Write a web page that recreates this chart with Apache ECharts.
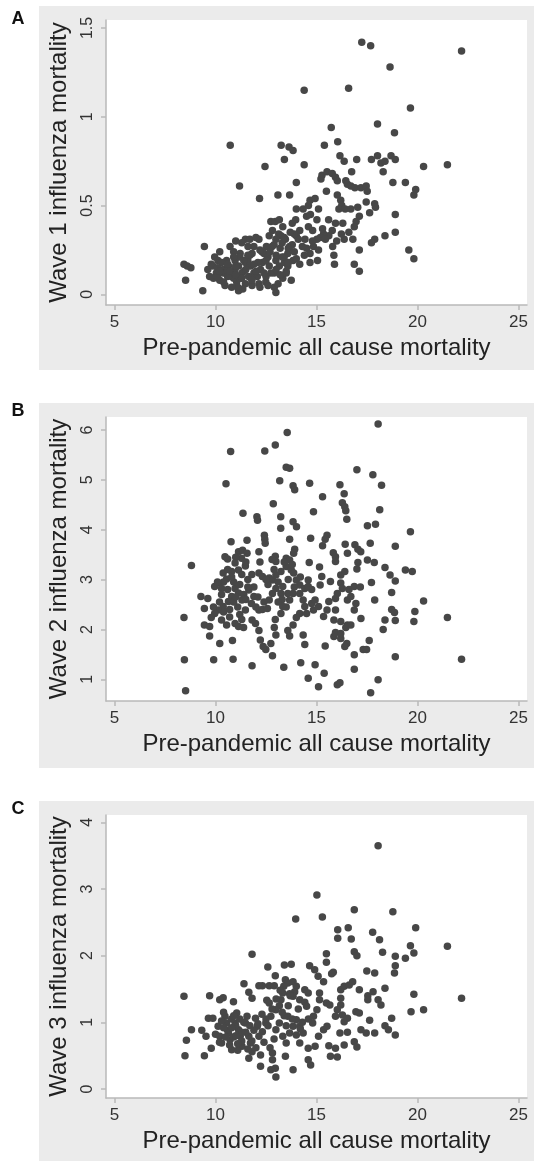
<!DOCTYPE html>
<html>
<head>
<meta charset="utf-8">
<script src="https://cdn.jsdelivr.net/npm/echarts@6/dist/echarts.min.js"></script>
<style>
html,body{margin:0;padding:0;background:#fff;}
#chart{width:534px;height:1161px;}
</style>
</head>
<body>
<div id="chart"></div>
<script>
// ---------- DATA ----------
const xTickValues = [5, 10, 15, 20, 25];
const aTickValues = [0, 0.5, 1, 1.5];
const bTickValues = [1, 2, 3, 4, 5, 6];
const cTickValues = [0, 1, 2, 3, 4];

const xTitle = 'Pre-pandemic all cause mortality';
const aTitle = 'Wave 1 influenza mortality';
const bTitle = 'Wave 2 influenza mortality';
const cTitle = 'Wave 3 influenza mortality';
const panelLetters = ['A', 'B', 'C'];

// Panel A (wave 1)
const aX = [17.24,17.68,22.18,18.64,14.39,16.59,19.65,15.73,18.02,18.86,10.73,13.25,13.64,13.84,15.39,16.05,16.16,16.37,16.99,17.72,
18.02,18.19,18.39,18.69,18.90,18.30,16.74,14.39,13.41,12.45,20.30,21.48,11.19,14.00,15.22,15.27,15.52,15.78,15.94,16.03,
16.45,16.53,16.70,16.90,17.20,17.46,17.51,18.78,19.40,19.91,19.82,12.18,13.09,13.67,15.49,16.03,16.20,16.25,16.11,16.42,
16.70,17.04,17.12,16.96,16.87,17.46,17.88,17.92,17.63,18.90,18.90,18.39,17.88,17.72,16.80,16.37,16.23,15.94,15.78,15.61,
15.35,15.19,15.44,14.85,15.02,14.81,14.60,15.02,14.51,14.34,14.68,14.93,14.60,14.00,13.97,13.80,14.17,14.00,14.43,14.51,
14.68,15.10,14.68,15.05,15.86,15.89,16.87,17.12,17.12,19.57,19.82,14.17,13.84,13.58,13.67,13.46,13.24,13.13,12.82,12.74,
12.96,13.16,13.33,12.99,12.66,12.52,12.40,12.15,11.90,11.81,11.48,11.61,11.22,10.97,10.72,10.21,9.96,9.45,8.44,8.78,
8.52,9.37,9.62,9.79,9.71,10.04,10.21,10.47,10.38,10.64,10.80,11.05,11.14,11.31,11.48,11.73,11.64,11.81,12.07,12.23,
12.32,12.66,12.74,12.49,12.15,12.99,13.16,12.91,12.99,13.33,13.50,13.75,13.58,13.41,10.97,11.14,10.55,10.38,9.87,10.12,
11.48,11.35,10.30,10.50,10.90,11.00,11.20,11.40,11.60,11.90,12.10,12.30,12.60,12.80,13.00,13.20,13.40,13.60,13.80,14.10,
14.30,13.90,13.30,12.90,12.50,11.10,10.60,10.10,9.90,11.80,12.20,13.10,13.50,14.00,14.40,14.80,15.30,15.60,15.10,14.70,
16.30,16.60,16.00,15.80,11.30,11.70,12.00,10.90,11.00,8.60,
10.10,10.40,10.70,10.90,11.20,11.50,11.70,11.90,12.20,12.50,12.70,13.00,13.30,13.60,13.90,10.60,11.00,11.40,11.80,12.40,
12.90,13.40,10.20,10.80,11.30,11.60,12.00,12.60,13.20,13.70];
const aY = [1.42,1.40,1.37,1.28,1.15,1.16,1.05,0.94,0.96,0.91,0.84,0.84,0.83,0.81,0.84,0.86,0.78,0.75,0.76,0.76,
0.78,0.74,0.75,0.78,0.76,0.69,0.69,0.73,0.76,0.72,0.72,0.73,0.61,0.63,0.65,0.67,0.69,0.68,0.66,0.64,
0.64,0.62,0.61,0.60,0.60,0.61,0.58,0.63,0.63,0.59,0.56,0.54,0.56,0.56,0.58,0.56,0.53,0.50,0.48,0.48,
0.48,0.49,0.44,0.41,0.38,0.52,0.51,0.49,0.46,0.45,0.35,0.33,0.31,0.29,0.31,0.31,0.34,0.40,0.36,0.33,
0.34,0.32,0.31,0.27,0.31,0.36,0.38,0.42,0.44,0.48,0.53,0.54,0.50,0.48,0.42,0.40,0.36,0.33,0.31,0.26,
0.23,0.25,0.18,0.19,0.22,0.17,0.17,0.13,0.25,0.25,0.20,0.17,0.19,0.23,0.27,0.31,0.33,0.34,0.36,0.41,
0.41,0.42,0.38,0.31,0.33,0.27,0.23,0.31,0.27,0.23,0.31,0.27,0.23,0.19,0.27,0.24,0.21,0.27,0.17,0.15,
0.08,0.02,0.14,0.17,0.10,0.12,0.08,0.05,0.14,0.16,0.10,0.07,0.02,0.12,0.18,0.16,0.10,0.05,0.10,0.14,
0.18,0.16,0.12,0.07,0.06,0.19,0.16,0.04,0.01,0.09,0.12,0.08,0.16,0.18,0.14,0.16,0.19,0.12,0.16,0.19,
0.06,0.03,0.18,0.12,0.09,0.16,0.21,0.13,0.19,0.12,0.18,0.24,0.21,0.27,0.22,0.26,0.21,0.18,0.28,0.31,
0.27,0.34,0.29,0.12,0.10,0.04,0.10,0.15,0.09,0.09,0.04,0.06,0.13,0.20,0.22,0.30,0.37,0.42,0.48,0.45,
0.40,0.35,0.30,0.27,0.29,0.31,0.32,0.24,0.30,0.16,
0.10,0.07,0.13,0.21,0.09,0.14,0.22,0.17,0.25,0.19,0.24,0.14,0.21,0.26,0.24,0.17,0.11,0.19,0.08,0.12,
0.28,0.32,0.13,0.04,0.09,0.22,0.13,0.05,0.11,0.35];

// Panel B (wave 2)
const bX = [18.05,13.55,12.96,10.75,12.44,13.50,13.67,17.00,17.79,10.52,13.18,13.84,13.92,14.66,16.16,18.22,15.30,16.37,12.86,16.28,
16.40,16.45,14.85,18.13,11.36,12.05,12.08,16.50,13.23,13.84,14.01,17.52,17.92,13.23,19.65,12.42,12.44,12.46,14.71,15.52,
15.43,15.30,13.67,10.77,11.56,18.90,16.42,16.90,17.05,17.19,17.66,16.53,15.83,15.94,15.94,13.92,13.87,13.50,13.67,12.96,
12.99,12.15,11.14,11.34,11.56,11.29,10.47,10.60,10.97,17.52,17.86,17.05,17.00,14.64,15.15,18.39,18.64,18.90,19.40,19.74,
8.81,11.48,11.14,10.80,10.38,10.55,10.13,9.96,10.30,12.15,12.32,12.66,12.82,12.99,13.24,13.50,13.75,13.87,14.00,14.17,
14.42,14.59,14.76,14.59,15.26,15.18,15.69,16.20,16.40,16.20,16.28,16.61,16.87,17.17,17.72,11.65,11.90,11.78,11.48,11.31,
11.14,10.97,10.80,10.64,10.38,10.13,9.96,9.79,9.45,9.28,9.62,8.44,9.45,9.71,9.71,10.21,10.30,10.55,10.97,11.14,
11.39,11.81,11.98,12.15,12.32,12.57,12.66,12.82,12.99,13.24,13.33,13.58,13.67,13.84,14.17,14.34,14.42,14.17,14.00,13.84,
13.58,13.67,12.96,12.91,12.99,13.24,13.33,14.51,14.85,14.76,14.93,15.10,15.61,15.52,15.35,15.94,15.86,16.20,16.03,15.94,
16.53,16.70,16.95,16.87,16.53,16.45,16.70,17.20,17.88,18.72,18.72,18.86,18.39,18.30,18.90,19.82,19.87,20.30,21.48,22.18,
18.90,17.61,17.31,17.48,16.87,16.87,16.50,16.40,16.20,15.86,15.94,16.20,15.43,15.38,15.10,14.93,14.59,14.42,14.34,14.22,
13.38,12.82,12.74,12.49,12.36,12.22,12.15,11.81,10.87,10.84,9.91,8.46,8.52,16.03,16.16,17.68,18.05,
10.20,10.40,10.60,10.90,11.10,11.20,11.40,11.60,11.00,10.80,11.30,11.50,10.70,12.40,12.60,12.90,13.10,13.30,13.60,13.90,
13.40,12.20,11.90,12.00,
10.30,10.60,10.90,11.20,11.50,11.80,10.40,10.70,11.00,11.30,11.60,12.10,12.50,12.80,13.10,13.50,13.80,14.20,9.90,10.10];
const bY = [6.12,5.95,5.70,5.57,5.58,5.25,5.23,5.20,5.10,4.92,4.98,4.88,4.80,4.93,4.90,4.89,4.66,4.72,4.52,4.54,
4.46,4.38,4.36,4.40,4.33,4.26,4.19,4.21,4.26,4.16,4.06,4.08,4.11,4.03,3.96,3.89,3.81,3.73,3.83,3.89,
3.81,3.68,3.81,3.76,3.79,3.67,3.71,3.70,3.61,3.56,3.73,3.53,3.54,3.46,3.36,3.61,3.53,3.43,3.39,3.47,
3.36,3.56,3.56,3.59,3.53,3.43,3.46,3.41,3.33,3.39,3.34,3.34,3.21,3.34,3.25,3.24,3.09,2.97,3.19,3.16,
3.28,3.27,3.19,3.16,3.13,3.01,2.93,2.86,2.82,3.13,3.06,3.03,2.99,3.09,3.16,3.26,3.19,3.13,2.99,2.89,
2.82,2.86,2.80,2.99,3.06,2.89,2.96,3.09,3.16,2.93,2.82,2.80,2.86,2.85,2.94,2.79,2.66,2.52,2.39,2.59,
2.73,2.82,2.66,2.56,2.46,2.39,2.32,2.24,2.42,2.66,2.62,2.24,2.09,2.06,1.87,1.72,2.19,2.09,2.12,2.06,
2.04,2.19,2.12,2.39,2.40,2.42,2.59,2.72,2.82,2.72,2.86,2.72,2.59,2.72,2.72,2.59,2.46,2.32,2.24,2.09,
1.98,1.87,2.20,2.04,1.89,2.32,2.46,2.32,2.39,2.52,2.59,2.46,2.56,2.39,2.26,2.39,2.19,2.16,2.72,2.62,
2.59,2.66,2.52,2.39,2.09,2.04,2.09,2.22,2.59,2.74,2.40,2.34,2.19,2.00,2.18,2.16,2.36,2.57,2.24,1.40,
1.45,1.78,1.60,1.60,1.49,1.20,1.72,1.66,1.82,1.86,1.94,1.92,1.67,1.12,0.85,1.29,1.02,1.70,1.89,1.33,
1.24,1.47,1.72,1.60,1.66,1.79,1.98,1.27,1.40,1.78,1.39,1.39,0.77,0.89,0.93,0.73,0.99,
2.55,2.35,2.80,2.95,2.45,2.30,2.70,3.00,3.45,3.05,3.10,2.60,2.25,2.55,2.90,3.20,2.95,2.60,3.00,2.85,
3.35,3.35,2.85,2.45,
2.70,3.20,2.55,2.90,3.35,3.10,2.95,2.40,2.65,2.20,2.85,2.65,3.00,3.40,2.55,2.45,3.30,3.05,2.45,2.95];

// Panel C (wave 3)
const cX = [18.05,15.02,16.87,18.78,13.97,15.29,16.57,19.91,16.05,16.05,16.72,17.78,18.12,21.48,19.65,16.87,17.00,18.27,19.82,18.90,
19.40,11.81,15.49,15.49,18.90,18.86,17.88,17.49,15.83,15.75,14.66,14.91,15.08,15.35,13.41,13.75,12.59,12.96,13.46,13.58,
13.38,13.84,14.00,13.92,13.84,13.67,13.33,13.24,13.16,12.99,12.74,12.49,12.32,12.15,12.32,12.66,12.91,12.15,11.41,11.65,
11.81,12.54,12.66,14.17,14.42,14.51,14.42,14.59,15.15,15.15,15.49,15.66,16.20,16.37,16.62,16.79,17.12,17.54,17.54,17.80,
18.05,18.19,18.39,16.20,16.20,16.03,15.94,16.28,16.37,16.53,16.95,17.12,17.63,17.20,17.46,17.88,18.39,18.56,18.72,18.90,
19.82,19.68,20.30,22.18,8.44,9.71,10.38,10.21,10.89,8.81,8.56,8.49,9.45,9.32,9.53,9.65,9.87,9.79,10.13,10.21,
10.30,10.47,10.55,10.64,10.72,10.80,10.97,11.05,11.14,11.22,11.31,11.48,11.56,11.65,11.73,11.81,11.98,12.07,11.65,12.23,
12.23,12.82,12.82,12.74,12.96,12.99,13.46,13.84,12.99,13.16,13.33,13.50,13.67,13.84,14.00,14.17,14.34,14.59,14.59,14.71,
14.81,14.85,15.02,15.10,14.93,15.35,15.52,15.61,15.69,16.03,15.94,16.16,16.37,16.87,17.00,16.53,14.00,13.58,14.17,
10.60,10.90,11.00,11.20,11.30,11.50,11.70,10.40,10.80,11.90,12.30,12.60,12.80,13.00,13.20,13.40,13.60,13.80,14.10,14.30,
12.40,12.00,11.10,10.70,10.00,10.30,
10.50,10.80,11.10,11.40,11.60,10.20,10.90,11.30,12.10,12.50,12.90,13.30,13.70,14.20,14.60,10.40,11.00,11.80,12.70,13.50];
const cY = [3.65,2.91,2.69,2.66,2.55,2.58,2.42,2.42,2.39,2.26,2.25,2.35,2.24,2.14,2.15,2.06,2.00,2.05,2.04,1.99,
1.96,2.02,2.03,1.90,1.85,1.74,1.74,1.77,1.75,1.73,1.85,1.79,1.69,1.61,1.86,1.87,1.83,1.70,1.64,1.59,
1.54,1.61,1.54,1.46,1.39,1.43,1.44,1.34,1.25,1.19,1.09,0.99,0.86,0.79,1.55,1.55,1.55,1.55,1.58,1.45,
1.36,1.33,1.29,1.34,1.30,1.24,1.49,1.44,1.44,1.34,1.29,1.26,1.49,1.54,1.56,1.61,1.49,1.40,1.34,1.46,
1.34,1.26,1.51,1.36,1.26,1.19,1.09,1.11,1.01,1.06,1.16,1.14,1.03,0.89,0.84,0.84,0.95,0.89,1.06,0.81,
1.42,1.16,1.19,1.36,1.39,1.40,1.37,1.34,1.31,0.89,0.73,0.50,0.50,0.88,0.79,1.06,1.06,0.61,0.94,0.79,
0.69,1.09,0.99,0.84,0.74,0.59,0.99,1.14,0.89,0.79,0.64,0.99,1.09,0.79,0.69,0.56,1.06,0.94,0.46,0.51,
0.34,0.54,0.44,0.29,0.31,0.18,0.49,0.29,0.89,0.99,0.79,0.69,0.84,0.94,0.81,0.69,0.84,0.61,0.44,0.36,
0.99,1.09,1.19,0.79,0.64,0.89,0.94,0.65,0.49,0.48,0.61,0.84,0.66,0.71,0.63,0.85,1.04,1.09,0.94,
0.88,0.78,0.95,1.05,0.72,0.85,0.95,0.92,1.05,0.88,1.12,0.95,1.20,1.35,1.48,1.10,1.25,1.05,1.20,1.00,
0.70,0.62,0.58,0.66,0.82,1.02,
0.78,0.92,0.68,1.00,0.60,0.70,1.10,0.85,0.98,1.05,0.75,1.15,1.40,0.90,1.05,1.15,0.80,0.72,0.62,0.95];

// ---------- BUILD ----------
const FONT = '"Liberation Sans", Arial, Helvetica, sans-serif';
const W = 534;
const grids = [
  {left: 106, top: 20, width: 421, height: 285},
  {left: 106, top: 417, width: 421, height: 284},
  {left: 106, top: 815, width: 421, height: 283}
];
const panels = [
  {y0: 6, y1: 370},
  {y0: 403, y1: 768},
  {y0: 801, y1: 1161}
];
const yRanges = [[-0.06, 1.545], [0.565, 6.26], [-0.135, 4.11]];
const yTicks = [aTickValues, bTickValues, cTickValues];
const yTitles = [aTitle, bTitle, cTitle];
const letterY = [19, 411, 809];
const seriesData = [[aX, aY], [bX, bY], [cX, cY]];

function zip(xs, ys) { return xs.map((x, i) => [x, ys[i]]); }

const axisLineStyle = {color: '#b9b9b9', width: 1.5};

const option = {
  animation: false,
  backgroundColor: '#ffffff',
  grid: grids.map(g => Object.assign({containLabel: false, show: false}, g)),
  xAxis: grids.map((g, i) => ({
    type: 'value', gridIndex: i, min: 4.58, max: 25.42,
    splitLine: {show: false},
    axisLine: {show: true, onZero: false, lineStyle: axisLineStyle},
    axisTick: {show: true, length: 5, customValues: xTickValues, lineStyle: axisLineStyle},
    axisLabel: {customValues: xTickValues, fontFamily: FONT, fontSize: 17, color: '#333', margin: 9},
    name: xTitle, nameLocation: 'middle', nameGap: 31,
    nameTextStyle: {fontFamily: FONT, fontSize: 24, color: '#222'}
  })),
  yAxis: grids.map((g, i) => ({
    type: 'value', gridIndex: i, min: yRanges[i][0], max: yRanges[i][1],
    splitLine: {show: false},
    axisLine: {show: true, onZero: false, lineStyle: axisLineStyle},
    axisTick: {show: true, length: 5, customValues: yTicks[i], lineStyle: axisLineStyle},
    axisLabel: {customValues: yTicks[i], rotate: 90, fontFamily: FONT, fontSize: 16, color: '#333', margin: 10},
    name: yTitles[i], nameLocation: 'middle', nameGap: 35,
    nameTextStyle: {fontFamily: FONT, fontSize: 24, color: '#222'}
  })),
  series: seriesData.map((d, i) => ({
    type: 'scatter', xAxisIndex: i, yAxisIndex: i,
    data: zip(d[0], d[1]), symbol: 'circle', symbolSize: 7.5,
    itemStyle: {color: '#474747', opacity: 1},
    emphasis: {disabled: true}, silent: true
  })),
  graphic: {
    elements: [].concat(
      panels.map(p => ({type: 'rect', z: -100, silent: true,
        shape: {x: 39, y: p.y0, width: W - 39, height: p.y1 - p.y0},
        style: {fill: '#ebebeb'}})),
      grids.map(g => ({type: 'rect', z: -90, silent: true,
        shape: {x: g.left, y: g.top, width: g.width, height: g.height},
        style: {fill: '#ffffff'}})),
      panelLetters.map((t, i) => ({type: 'text', z: 10, silent: true,
        style: {text: t, x: 18, y: letterY[i], fill: '#111', font: 'bold 18px ' + FONT,
          textAlign: 'center', textVerticalAlign: 'middle'}}))
    )
  }
};

const chart = echarts.init(document.getElementById('chart'), null, {renderer: 'canvas'});
chart.setOption(option);
</script>
</body>
</html>
